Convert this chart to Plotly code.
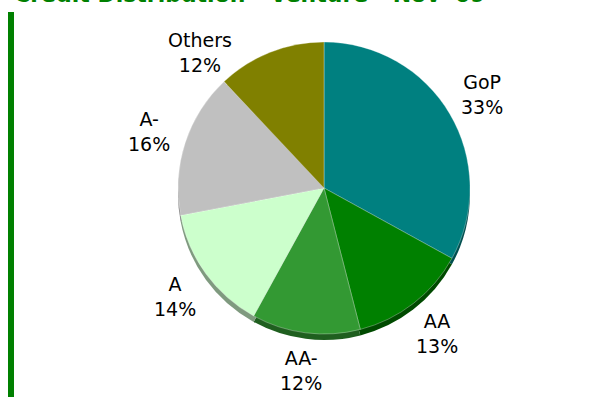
import math
import plotly.graph_objects as go

categories = ["GoP", "AA", "AA-", "A", "A-", "Others"]
values = [33, 13, 12, 14, 16, 12]
colors = ["#008080", "#008000", "#339933", "#CCFFCC", "#C0C0C0", "#808000"]
edge_colors = ["#004f4f", "#004a00", "#1f5f1f", "#7f9a7f", "#7a7a7a", "#4d4d00"]
title_text = "Credit Distribution - Venture - Nov '09"

W, H = 591, 399
cx, cy, r = 324, 188, 146
depth = 6

def dom(cxp, cyp, rad):
    return dict(x=[(cxp - rad) / W, (cxp + rad) / W],
                y=[(H - cyp - rad) / H, (H - cyp + rad) / H])

fig = go.Figure()
# 3D depth (shadow) layer
fig.add_trace(go.Pie(labels=categories, values=values, sort=False, direction="clockwise",
                     rotation=0, marker=dict(colors=edge_colors, line=dict(width=0)),
                     textinfo="none", hoverinfo="skip", showlegend=False,
                     domain=dom(cx, cy + depth, r)))
fig.add_trace(go.Pie(labels=categories, values=values, sort=False, direction="clockwise",
                     rotation=0, marker=dict(colors=colors, line=dict(width=0.6, color="rgba(255,255,255,0.5)")),
                     textinfo="none", showlegend=False,
                     domain=dom(cx, cy, r)))

# data labels placed around the pie from the slice mid-angles
total = sum(values)
cum = 0
lr = 184
ymin = 52
annotations = []
for lab, v in zip(categories, values):
    mid = (cum + v / 2) / total * 2 * math.pi
    cum += v
    dx = lr * math.sin(mid)
    dy = -lr * math.cos(mid)
    if cy + dy < ymin:
        dy = ymin - cy
        sgn = 1 if dx >= 0 else -1
        dx = sgn * math.sqrt(max(lr ** 2 - dy ** 2, 0))
    px, py = cx + dx, cy + dy
    annotations.append(dict(x=px / W, y=(H - py) / H, xref="paper", yref="paper",
                            text=f"{lab}<br>{round(v / total * 100)}%", showarrow=False,
                            xanchor="center", yanchor="middle", align="center",
                            font=dict(family="Verdana, DejaVu Sans", size=19, color="#000000")))

annotations.append(dict(x=12 / W, y=1, xref="paper", yref="paper", text=f"<b>{title_text}</b>",
                        showarrow=False, xanchor="left", yanchor="bottom", yshift=-9,
                        font=dict(family="Verdana, DejaVu Sans", size=22, color="#008000")))

fig.update_layout(
    width=W, height=H, margin=dict(l=0, r=0, t=0, b=0),
    paper_bgcolor="white", plot_bgcolor="white",
    annotations=annotations,
    shapes=[dict(type="rect", xref="paper", yref="paper", x0=8 / W, x1=14 / W,
                 y0=(H - 397) / H, y1=(H - 12) / H, fillcolor="#008000", line=dict(width=0))],
)

fig.write_html("out.html")
